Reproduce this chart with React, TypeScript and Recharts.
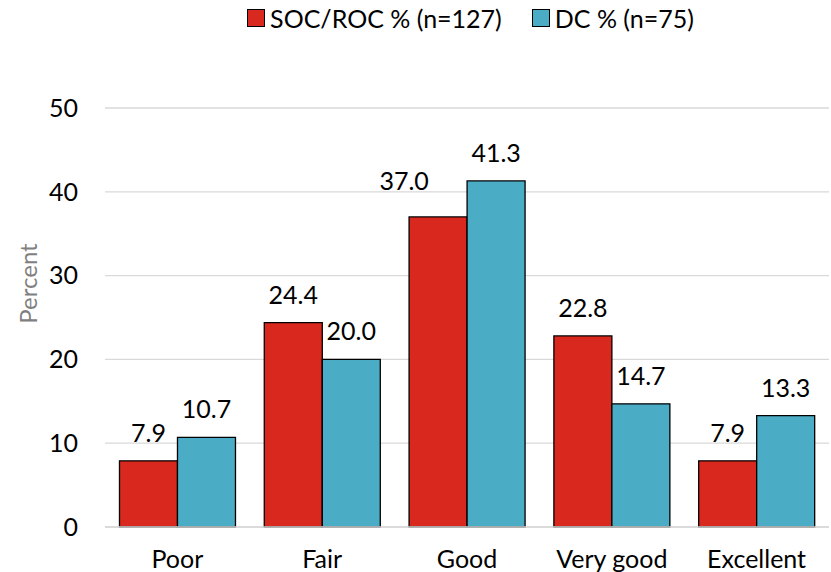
import { Bar, BarChart, CartesianGrid, LabelList, Legend, XAxis, YAxis } from 'recharts';

const CATEGORIES = ['Poor', 'Fair', 'Good', 'Very good', 'Excellent'];
const SOC_ROC = [7.9, 24.4, 37.0, 22.8, 7.9];
const DC = [10.7, 20.0, 41.3, 14.7, 13.3];
const Y_TICKS = [0, 10, 20, 30, 40, 50];

const RED = '#D9281E';
const BLUE = '#4BACC6';
const FONT = 'Lato, "Open Sans", sans-serif';

const SERIES = [
  { key: 'soc', name: 'SOC/ROC % (n=127)', color: RED },
  { key: 'dc', name: 'DC % (n=75)', color: BLUE },
];

// label nudges from the original (37.0 was dragged up/left)
const NUDGE: Record<string, [number, number]> = { 'soc-2': [-34, -8] };

const data = CATEGORIES.map((name, i) => ({ name, soc: SOC_ROC[i], dc: DC[i] }));

function LegendBox() {
  return (
    <div style={{ display: 'flex', justifyContent: 'center', alignItems: 'center', gap: 30, fontFamily: FONT, fontSize: 25, color: '#000' }}>
      {SERIES.map((s) => (
        <div key={s.key} style={{ display: 'flex', alignItems: 'center', gap: 5 }}>
          <span style={{ width: 16, height: 16, background: s.color, border: '1px solid #000', display: 'inline-block' }} />
          <span>{s.name}</span>
        </div>
      ))}
    </div>
  );
}

function valueLabel(seriesKey: string) {
  return (props: any) => {
    const { x, y, width, value, index } = props;
    const [dx, dy] = NUDGE[`${seriesKey}-${index}`] ?? [0, 0];
    return (
      <text x={x + width / 2 + dx} y={y - 19 + dy} textAnchor="middle" fill="#000" fontSize={25} fontFamily={FONT}>
        {Number(value).toFixed(1)}
      </text>
    );
  };
}

function PercentLabel(props: any) {
  const { viewBox } = props;
  const cx = viewBox.x + 27;
  const cy = viewBox.y + viewBox.height / 2 - 34;
  return (
    <text x={cx} y={cy} transform={`rotate(-90, ${cx}, ${cy})`} textAnchor="middle" dominantBaseline="central" fill="#7f7f7f" fontSize={24} fontFamily={FONT}>
      Percent
    </text>
  );
}

export default function App() {
  return (
    <div style={{ position: 'absolute', left: 0, top: 0, width: 831, height: 572, background: '#fff' }}>
      <BarChart
        width={831}
        height={572}
        data={data}
        margin={{ top: 68, right: 2, bottom: 0, left: 0 }}
        barCategoryGap="10%"
        barGap={0}
      >
        <Legend verticalAlign="top" height={40} content={() => <LegendBox />} wrapperStyle={{ top: 3, left: 0, width: 941 }} />
        <CartesianGrid vertical={false} stroke="#d9d9d9" strokeWidth={1.3} />
        <XAxis
          dataKey="name"
          height={45}
          axisLine={{ stroke: '#d9d9d9', strokeWidth: 1.3 }}
          tickLine={false}
          tickMargin={17}
          tick={{ fill: '#000', fontSize: 25, fontFamily: FONT }}
        />
        <YAxis
          width={105}
          domain={[0, 50]}
          ticks={Y_TICKS}
          axisLine={false}
          tickLine={false}
          tickMargin={21}
          tick={{ fill: '#000', fontSize: 25, fontFamily: FONT }}
          label={{ content: PercentLabel }}
        />
        {SERIES.map((s) => (
          <Bar key={s.key} dataKey={s.key} name={s.name} fill={s.color} stroke="#000" strokeWidth={1.3} isAnimationActive={false}>
            <LabelList dataKey={s.key} content={valueLabel(s.key)} />
          </Bar>
        ))}
      </BarChart>
    </div>
  );
}
